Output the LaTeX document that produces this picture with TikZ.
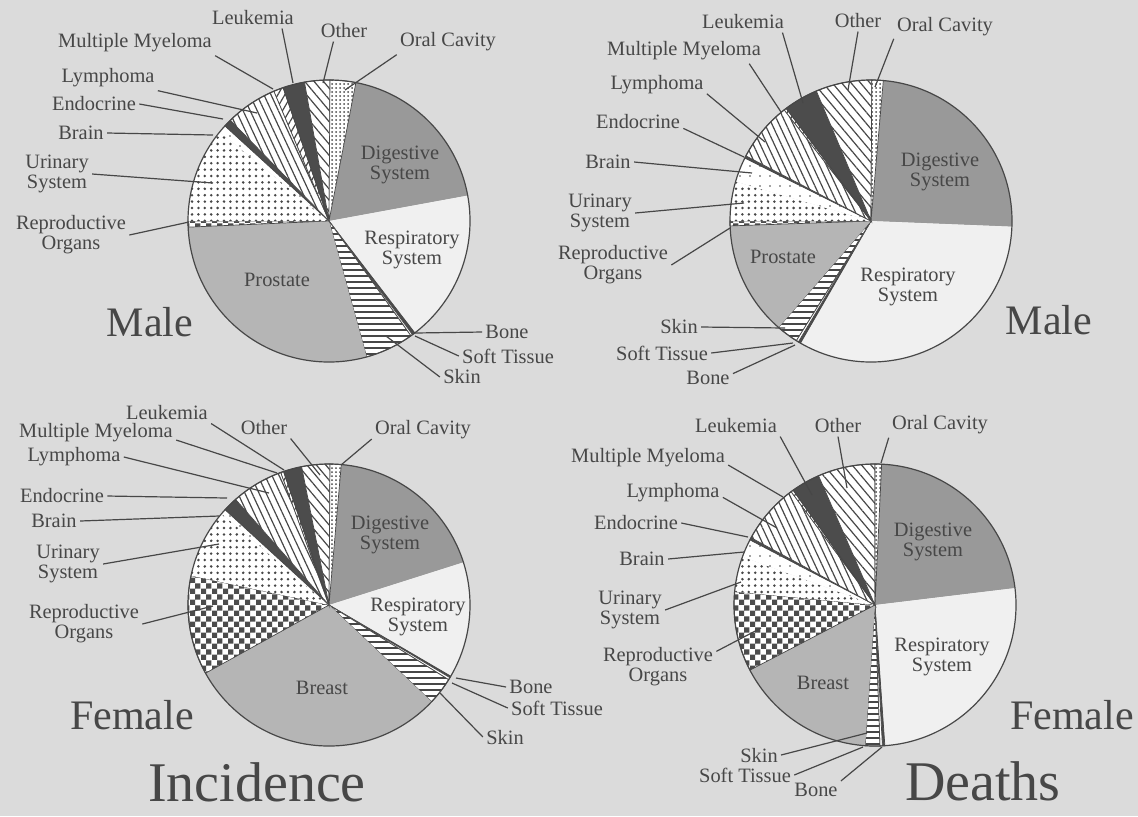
\documentclass[tikz,border=0pt]{standalone}
\usepackage{fontspec}
\setmainfont{Liberation Serif}
\usetikzlibrary{patterns,patterns.meta}

\definecolor{paper}{gray}{0.86}
\definecolor{ink}{gray}{0.28}
\definecolor{gdig}{gray}{0.6}
\definecolor{gpros}{gray}{0.71}
\definecolor{gresp}{gray}{0.94}
\definecolor{gdark}{gray}{0.3}

\pgfdeclarepatternformonly{smallchecks}{\pgfpointorigin}{\pgfqpoint{5.6pt}{5.6pt}}{\pgfqpoint{5.6pt}{5.6pt}}{%
  \pgfpathrectangle{\pgfpointorigin}{\pgfqpoint{2.8pt}{2.8pt}}%
  \pgfpathrectangle{\pgfqpoint{2.8pt}{2.8pt}}{\pgfqpoint{2.8pt}{2.8pt}}%
  \pgfusepath{fill}}

\tikzset{
  lbl/.style={font=\fontsize{10.2}{10}\selectfont, text=ink, align=center, inner sep=1.5pt},
  inlbl/.style={font=\fontsize{10.2}{10}\selectfont, text=ink, align=center, inner sep=0pt},
  sex/.style={font=\fontsize{21}{21}\selectfont, text=ink, inner sep=0pt},
  kind/.style={font=\fontsize{28}{28}\selectfont, text=ink, inner sep=0pt},
  lead/.style={draw=ink, line width=0.6pt},
  rim/.style={draw=ink, line width=0.6pt},
  edge/.style={draw=ink, line width=0.35pt},
  dig/.style={fill=gdig},
  pros/.style={fill=gpros},
  resp/.style={fill=gresp},
  dark/.style={fill=gdark, edge},
  soft/.style={fill=white, edge},
  skinh/.style={preaction={fill=white}, pattern={Lines[angle=0, distance=3pt, line width=0.6pt]}, pattern color=ink, edge},
  lymph/.style={preaction={fill=white}, pattern={Lines[angle=-65, distance=3.2pt, line width=0.6pt]}, pattern color=ink, edge},
  myel/.style={preaction={fill=white}, pattern={Lines[angle=60, distance=3pt, line width=0.6pt]}, pattern color=ink, edge},
  other/.style={preaction={fill=white}, pattern={Lines[angle=-50, distance=3.6pt, line width=0.6pt]}, pattern color=ink, edge},
  oral/.style={preaction={fill=white}, pattern={Dots[distance=2pt, radius=0.5pt]}, pattern color=ink, edge},
  urin/.style={preaction={fill=white}, pattern={Dots[distance=3.2pt, radius=0.7pt]}, pattern color=ink},
  brainw/.style={preaction={fill=white}, pattern={Dots[distance=5pt, radius=0.4pt]}, pattern color=ink},
  repro/.style={preaction={fill=white}, pattern=smallchecks, pattern color=gray!60!black, edge},
}

\begin{document}
\begin{tikzpicture}[x=0.5pt, y=0.5pt]
  \def\rad{141}
  \def\wedgepart#1#2#3#4{\path[#4] (#1) -- ++(#2:\rad) arc[start angle=#2, end angle=#3, radius=\rad] -- cycle;}
  \fill[paper] (0,0) rectangle (1138,-816);
  \useasboundingbox (0,0) rectangle (1138,-816);

  % male incidence
  \coordinate (c1) at (329,-221);
  \wedgepart{c1}{79}{10.4}{dig}
  \wedgepart{c1}{10.4}{-52.5}{resp}
  \wedgepart{c1}{-52.5}{-53.7}{dark}
  \wedgepart{c1}{-53.7}{-54.5}{soft}
  \wedgepart{c1}{-54.5}{-74.5}{skinh}
  \wedgepart{c1}{-74.5}{-177.5}{pros}
  \wedgepart{c1}{182.5}{180}{repro}
  \wedgepart{c1}{180}{140.8}{urin}
  \wedgepart{c1}{140.8}{137.6}{brainw}
  \wedgepart{c1}{137.6}{134.4}{dark}
  \wedgepart{c1}{134.4}{113}{lymph}
  \wedgepart{c1}{113}{109}{myel}
  \wedgepart{c1}{109}{100}{dark}
  \wedgepart{c1}{100}{89.6}{other}
  \wedgepart{c1}{89.6}{79}{oral}
  \draw[rim] (c1) circle[radius=\rad];

  % male deaths
  \coordinate (c2) at (871,-221);
  \wedgepart{c2}{85}{-2.3}{dig}
  \wedgepart{c2}{-2.3}{-120}{resp}
  \wedgepart{c2}{-120}{-121}{dark}
  \wedgepart{c2}{-121}{-122}{soft}
  \wedgepart{c2}{-122}{-131}{skinh}
  \wedgepart{c2}{-131}{-178}{pros}
  \wedgepart{c2}{182}{180}{repro}
  \wedgepart{c2}{180}{163.8}{urin}
  \wedgepart{c2}{163.8}{153.5}{brainw}
  \wedgepart{c2}{153.5}{152.5}{dark}
  \wedgepart{c2}{152.5}{128}{lymph}
  \wedgepart{c2}{128}{127}{myel}
  \wedgepart{c2}{127}{112.8}{dark}
  \wedgepart{c2}{112.8}{89.7}{other}
  \wedgepart{c2}{89.7}{85}{oral}
  \draw[rim] (c2) circle[radius=\rad];

  % female incidence
  \coordinate (c3) at (329,-605);
  \wedgepart{c3}{85}{17.6}{dig}
  \wedgepart{c3}{17.6}{-30.3}{resp}
  \wedgepart{c3}{-30.3}{-31}{dark}
  \wedgepart{c3}{-31}{-32}{soft}
  \wedgepart{c3}{-32}{-43.3}{skinh}
  \wedgepart{c3}{-43.3}{-151.1}{pros}
  \wedgepart{c3}{208.9}{168}{repro}
  \wedgepart{c3}{168}{139.6}{urin}
  \wedgepart{c3}{139.6}{137.5}{brainw}
  \wedgepart{c3}{137.5}{131.5}{dark}
  \wedgepart{c3}{131.5}{110}{lymph}
  \wedgepart{c3}{110}{108.8}{myel}
  \wedgepart{c3}{108.8}{101.2}{dark}
  \wedgepart{c3}{101.2}{89.6}{other}
  \wedgepart{c3}{89.6}{85}{oral}
  \draw[rim] (c3) circle[radius=\rad];

  % female deaths
  \coordinate (c4) at (875,-605);
  \wedgepart{c4}{87.3}{6.9}{dig}
  \wedgepart{c4}{6.9}{-86}{resp}
  \wedgepart{c4}{-86}{-87}{dark}
  \wedgepart{c4}{-87}{-88}{soft}
  \wedgepart{c4}{-88}{-94}{skinh}
  \wedgepart{c4}{-94}{-152.5}{pros}
  \wedgepart{c4}{207.5}{174.6}{repro}
  \wedgepart{c4}{174.6}{160}{urin}
  \wedgepart{c4}{160}{152.5}{brainw}
  \wedgepart{c4}{152.5}{151.5}{dark}
  \wedgepart{c4}{151.5}{126.5}{lymph}
  \wedgepart{c4}{126.5}{125.5}{myel}
  \wedgepart{c4}{125.5}{113.6}{dark}
  \wedgepart{c4}{113.6}{90}{other}
  \wedgepart{c4}{90}{87.3}{oral}
  \draw[rim] (c4) circle[radius=\rad];

  % texts inside the pies
  \node[inlbl] (dig1) at (400,-165) {Digestive\\System};
  \node[inlbl] (res1) at (412,-250) {Respiratory\\System};
  \node[inlbl] (pro1) at (277,-280) {Prostate};
  \node[inlbl] (dig2) at (940,-172) {Digestive\\System};
  \node[inlbl] (res2) at (908,-287) {Respiratory\\System};
  \node[inlbl] (pro2) at (783,-257) {Prostate};
  \node[inlbl] (dig3) at (390,-535) {Digestive\\System};
  \node[inlbl] (res3) at (418,-617) {Respiratory\\System};
  \node[inlbl] (bre3) at (322,-688) {Breast};
  \node[inlbl] (dig4) at (933,-542) {Digestive\\System};
  \node[inlbl] (res4) at (942,-657) {Respiratory\\System};
  \node[inlbl] (bre4) at (823,-683) {Breast};

  % titles
  \node[sex] (male1) at (150,-322) {Male};
  \node[sex] (male2) at (1049,-320) {Male};
  \node[sex] (fem3) at (132,-715) {Female};
  \node[sex] (fem4) at (1072,-715) {Female};
  \node[kind] (inc) at (257,-782) {Incidence};
  \node[kind] (dea) at (983,-781) {Deaths};

  % labels, male incidence
  \node[lbl] (leu1) at (253,-18) {Leukemia};
  \node[lbl] (mye1) at (135,-43) {Multiple Myeloma};
  \node[lbl] (oth1) at (344,-31) {Other};
  \node[lbl] (ora1) at (448,-42) {Oral Cavity};
  \node[lbl] (lym1) at (108,-78) {Lymphoma};
  \node[lbl] (end1) at (94,-104) {Endocrine};
  \node[lbl] (bra1) at (81,-133) {Brain};
  \node[lbl] (uri1) at (57,-174) {Urinary\\System};
  \node[lbl] (rep1) at (71,-235) {Reproductive\\Organs};
  \node[lbl] (bon1) at (507,-332) {Bone};
  \node[lbl] (sof1) at (508,-356) {Soft Tissue};
  \node[lbl] (ski1) at (462,-377) {Skin};
  \coordinate (leu1e) at (293,-83);
  \coordinate (mye1e) at (273,-89);
  \coordinate (oth1e) at (323,-83);
  \coordinate (ora1e) at (345,-90);
  \coordinate (lym1e) at (257,-113);
  \coordinate (end1e) at (223,-119);
  \coordinate (bra1e) at (213,-135);
  \coordinate (uri1e) at (213,-183);
  \coordinate (rep1e) at (189,-222);
  \coordinate (bon1e) at (415,-333);
  \coordinate (sof1e) at (415,-336);
  \coordinate (ski1e) at (386,-336);
  \draw[lead] (leu1.-20) -- (leu1e);
  \draw[lead] (mye1.south east) -- (mye1e);
  \draw[lead] (oth1.-135) -- (oth1e);
  \draw[lead] (ora1.south west) -- (ora1e);
  \draw[lead] (lym1.south east) -- (lym1e);
  \draw[lead] (end1.east) -- (end1e);
  \draw[lead] (bra1.east) -- (bra1e);
  \draw[lead] (uri1.east) -- (uri1e);
  \draw[lead] (rep1.east) -- (rep1e);
  \draw[lead] (bon1.west) -- (bon1e);
  \draw[lead] (sof1.west) -- (sof1e);
  \draw[lead] (ski1.west) -- (ski1e);

  % labels, male deaths
  \node[lbl] (leu2) at (743,-22) {Leukemia};
  \node[lbl] (oth2) at (858,-21) {Other};
  \node[lbl] (ora2) at (945,-27) {Oral Cavity};
  \node[lbl] (mye2) at (684,-51) {Multiple Myeloma};
  \node[lbl] (lym2) at (657,-85) {Lymphoma};
  \node[lbl] (end2) at (638,-122) {Endocrine};
  \node[lbl] (bra2) at (608,-162) {Brain};
  \node[lbl] (uri2) at (600,-213) {Urinary\\System};
  \node[lbl] (rep2) at (613,-265) {Reproductive\\Organs};
  \node[lbl] (ski2) at (679,-327) {Skin};
  \node[lbl] (sof2) at (662,-353) {Soft Tissue};
  \node[lbl] (bon2) at (708,-378) {Bone};
  \coordinate (leu2e) at (803,-103);
  \coordinate (oth2e) at (848,-90);
  \coordinate (ora2e) at (875,-87);
  \coordinate (mye2e) at (781,-112);
  \coordinate (lym2e) at (765,-142);
  \coordinate (end2e) at (744,-157);
  \coordinate (bra2e) at (752,-173);
  \coordinate (uri2e) at (744,-203);
  \coordinate (rep2e) at (730,-228);
  \coordinate (ski2e) at (785,-328);
  \coordinate (sof2e) at (793,-343);
  \coordinate (bon2e) at (795,-345);
  \draw[lead] (leu2.-15) -- (leu2e);
  \draw[lead] (oth2.south) -- (oth2e);
  \draw[lead] (ora2.-167) -- (ora2e);
  \draw[lead] (mye2.-11) -- (mye2e);
  \draw[lead] (lym2.-10) -- (lym2e);
  \draw[lead] (end2.-8) -- (end2e);
  \draw[lead] (bra2.east) -- (bra2e);
  \draw[lead] (uri2.east) -- (uri2e);
  \draw[lead] (rep2.east) -- (rep2e);
  \draw[lead] (ski2.east) -- (ski2e);
  \draw[lead] (sof2.east) -- (sof2e);
  \draw[lead] (bon2.10) -- (bon2e);

  % labels, female incidence
  \node[lbl] (leu3) at (167,-413) {Leukemia};
  \node[lbl] (mye3) at (96,-433) {Multiple Myeloma};
  \node[lbl] (lym3) at (74,-457) {Lymphoma};
  \node[lbl] (oth3) at (264,-428) {Other};
  \node[lbl] (ora3) at (423,-430) {Oral Cavity};
  \node[lbl] (end3) at (62,-496) {Endocrine};
  \node[lbl] (bra3) at (54,-521) {Brain};
  \node[lbl] (uri3) at (68,-564) {Urinary\\System};
  \node[lbl] (rep3) at (84,-624) {Reproductive\\Organs};
  \node[lbl] (bon3) at (531,-687) {Bone};
  \node[lbl] (sof3) at (557,-708) {Soft Tissue};
  \node[lbl] (ski3) at (505,-737) {Skin};
  \coordinate (leu3e) at (284,-470);
  \coordinate (mye3e) at (277,-473);
  \coordinate (lym3e) at (269,-493);
  \coordinate (oth3e) at (320,-475);
  \coordinate (ora3e) at (341,-465);
  \coordinate (end3e) at (227,-498);
  \coordinate (bra3e) at (219,-516);
  \coordinate (uri3e) at (219,-544);
  \coordinate (rep3e) at (213,-606);
  \coordinate (bon3e) at (456,-678);
  \coordinate (sof3e) at (452,-683);
  \coordinate (ski3e) at (440,-693);
  \draw[lead] (leu3.south east) -- (leu3e);
  \draw[lead] (mye3.-5) -- (mye3e);
  \draw[lead] (lym3.east) -- (lym3e);
  \draw[lead] (oth3.south east) -- (oth3e);
  \draw[lead] (ora3.-170) -- (ora3e);
  \draw[lead] (end3.east) -- (end3e);
  \draw[lead] (bra3.east) -- (bra3e);
  \draw[lead] (uri3.east) -- (uri3e);
  \draw[lead] (rep3.east) -- (rep3e);
  \draw[lead] (bon3.west) -- (bon3e);
  \draw[lead] (sof3.west) -- (sof3e);
  \draw[lead] (ski3.west) -- (ski3e);

  % labels, female deaths
  \node[lbl] (leu4) at (736,-426) {Leukemia};
  \node[lbl] (oth4) at (838,-426) {Other};
  \node[lbl] (ora4) at (940,-425) {Oral Cavity};
  \node[lbl] (mye4) at (648,-458) {Multiple Myeloma};
  \node[lbl] (lym4) at (673,-493) {Lymphoma};
  \node[lbl] (end4) at (636,-523) {Endocrine};
  \node[lbl] (bra4) at (642,-559) {Brain};
  \node[lbl] (uri4) at (630,-610) {Urinary\\System};
  \node[lbl] (rep4) at (658,-667) {Reproductive\\Organs};
  \node[lbl] (ski4) at (759,-755) {Skin};
  \node[lbl] (sof4) at (745,-775) {Soft Tissue};
  \node[lbl] (bon4) at (816,-790) {Bone};
  \coordinate (leu4e) at (812,-495);
  \coordinate (oth4e) at (847,-488);
  \coordinate (ora4e) at (881,-463);
  \coordinate (mye4e) at (783,-497);
  \coordinate (lym4e) at (777,-528);
  \coordinate (end4e) at (748,-537);
  \coordinate (bra4e) at (744,-552);
  \coordinate (uri4e) at (741,-582);
  \coordinate (rep4e) at (761,-628);
  \coordinate (ski4e) at (867,-733);
  \coordinate (sof4e) at (863,-747);
  \coordinate (bon4e) at (882,-747);
  \draw[lead] (leu4.south east) -- (leu4e);
  \draw[lead] (oth4.south) -- (oth4e);
  \draw[lead] (ora4.south west) -- (ora4e);
  \draw[lead] (mye4.-5) -- (mye4e);
  \draw[lead] (lym4.-5) -- (lym4e);
  \draw[lead] (end4.east) -- (end4e);
  \draw[lead] (bra4.east) -- (bra4e);
  \draw[lead] (uri4.east) -- (uri4e);
  \draw[lead] (rep4.15) -- (rep4e);
  \draw[lead] (ski4.east) -- (ski4e);
  \draw[lead] (sof4.east) -- (sof4e);
  \draw[lead] (bon4.20) -- (bon4e);
\end{tikzpicture}
\end{document}
